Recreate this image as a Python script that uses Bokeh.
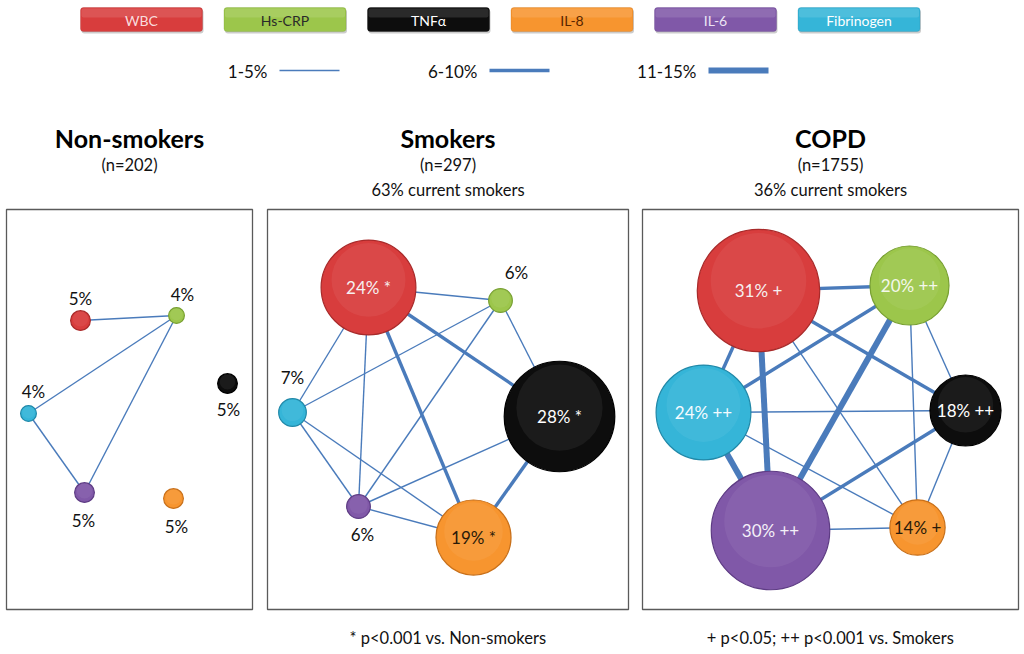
from bokeh.plotting import figure
from bokeh.models import Range1d, ColumnDataSource, BoxAnnotation
from bokeh.embed import file_html
from bokeh.resources import INLINE
from bokeh.core.properties import value

FONT = "Lato"

# ---------------- data ----------------
markers = ["WBC", "Hs-CRP", "TNFα", "IL-8", "IL-6", "Fibrinogen"]
marker_colors = ["#d83d3d", "#9cc64b", "#0d0d0d", "#f7952f", "#8058a8", "#35b5d8"]
marker_edges = ["#a82a2a", "#78a032", "#000000", "#c8701a", "#5e3c84", "#2088a8"]
legend_text_colors = ["#f8dcdc", "#2a2a2a", "#ffffff", "#5a2600", "#ece4f4", "#ffffff"]
node_text_colors = ["#f6f0f0", "#f4f8ec", "#ffffff", "#2a1a08", "#f4f0f8", "#f4fbff"]

width_classes = ["1-5%", "6-10%", "11-15%"]
width_px = [1.4, 3.4, 6.0]

groups = ["Non-smokers", "Smokers", "COPD"]
group_n = ["(n=202)", "(n=297)", "(n=1755)"]
group_smokers = ["", "63% current smokers", "36% current smokers"]
footnotes = ["", "* p<0.001 vs. Non-smokers", "+ p<0.05; ++ p<0.001 vs. Smokers"]

# prevalence of persistent inflammation (%) per marker (order as markers)
nonsmk_pct = [5, 4, 5, 5, 5, 4]
smk_pct = [24, 6, 28, 19, 6, 7]
copd_pct = [31, 20, 18, 14, 30, 24]
nonsmk_sig = ["", "", "", "", "", ""]
smk_sig = ["*", "", "*", "*", "", ""]
copd_sig = ["+", "++", "++", "+", "++", "++"]

# edges: (marker i, marker j, overlap class 1..3)
nonsmk_edges = [(0, 1, 1), (1, 5, 1), (1, 4, 1), (5, 4, 1)]
smk_edges = [(0, 1, 1), (0, 2, 2), (0, 3, 2), (0, 5, 1), (0, 4, 1), (1, 2, 1),
             (1, 5, 1), (1, 4, 1), (2, 4, 1), (2, 3, 2), (5, 4, 1), (5, 3, 1), (4, 3, 1)]
copd_edges = [(0, 1, 2), (0, 2, 2), (0, 5, 2), (0, 4, 3), (0, 3, 1), (1, 5, 2),
              (1, 4, 3), (1, 2, 1), (1, 3, 1), (2, 5, 1), (2, 4, 2), (2, 3, 1),
              (5, 4, 3), (5, 3, 1), (4, 3, 1)]

# ---------------- layout (page pixels) ----------------
nonsmk_x = [80, 176, 227, 173, 84, 28]
nonsmk_y = [320, 315, 383, 498, 492, 413]
smk_x = [368, 500, 559, 473, 358, 292]
smk_y = [287, 300, 416, 537, 506, 412]
copd_x = [758, 909, 965, 917, 770, 703]
copd_y = [290, 285, 410, 527, 530, 412]
# outside-label offsets for small nodes
nonsmk_lab = [(0, -22), (6, -21), (1, 26), (3, 28), (-1, 28), (5, -22)]
smk_lab = [(0, 0), (16, -28), (0, 0), (0, 0), (4, 28), (0, -35)]
copd_lab = [(0, 0)] * 6

panel_left = [6, 267, 642]
panel_right = [252, 628, 1018]
panel_top, panel_bottom = 209, 609

panels = [
    (nonsmk_x, nonsmk_y, nonsmk_pct, nonsmk_sig, nonsmk_edges, nonsmk_lab),
    (smk_x, smk_y, smk_pct, smk_sig, smk_edges, smk_lab),
    (copd_x, copd_y, copd_pct, copd_sig, copd_edges, copd_lab),
]

W, H = 1024, 654
p = figure(width=W, height=H, x_range=Range1d(0, W), y_range=Range1d(H, 0),
           output_backend="svg", toolbar_location=None, min_border=0)
p.axis.visible = False
p.grid.visible = False
p.outline_line_color = None
p.background_fill_color = "white"

EDGE = "#4a7bbb"
SIZE_PER_PCT = 3.95  # diameter in px per percentage point

# ---------------- legend: markers ----------------
for k, name in enumerate(markers):
    cx = 141 + k * 143.5
    p.add_layout(BoxAnnotation(left=cx - 60, right=cx + 62, top=9, bottom=33,
                               fill_color="#9a9a9a", fill_alpha=0.5, line_color=None,
                               border_radius=3, level="underlay"))
    p.add_layout(BoxAnnotation(left=cx - 61, right=cx + 61, top=7, bottom=31,
                               fill_color=marker_colors[k], fill_alpha=1.0,
                               line_color=marker_edges[k], line_width=1, border_radius=3,
                               level="underlay"))
    p.add_layout(BoxAnnotation(left=cx - 60, right=cx + 60, top=8, bottom=17,
                               fill_color="white", fill_alpha=0.12, line_color=None,
                               border_radius=2, level="underlay"))
leg_src = ColumnDataSource(dict(x=[141 + k * 143.5 for k in range(6)], y=[19.5] * 6,
                                t=markers, c=legend_text_colors))
p.text("x", "y", text="t", text_color="c", source=leg_src, text_align="center",
       text_baseline="middle", text_font=value(FONT), text_font_size="14px")

# ---------------- legend: line widths ----------------
lw_text_x = [267, 477, 696]
for k, lab in enumerate(width_classes):
    p.text([lw_text_x[k]], [71], text=[lab], text_align="right", text_baseline="middle",
           text_font=value(FONT), text_font_size="17px", text_color="#111111")
    p.segment([lw_text_x[k] + 12], [70], [lw_text_x[k] + 72], [70],
              line_color=EDGE, line_width=width_px[k])

# ---------------- panels ----------------
for g in range(3):
    xs, ys, pct, sig, edges, lab = panels[g]
    cx = (panel_left[g] + panel_right[g]) / 2
    # titles
    p.text([cx], [137], text=[groups[g]], text_align="center", text_baseline="middle",
           text_font=value(FONT), text_font_style="bold", text_font_size="25px",
           text_color="#000000")
    p.text([cx], [164], text=[group_n[g]], text_align="center", text_baseline="middle",
           text_font=value(FONT), text_font_size="16.5px", text_color="#111111")
    if group_smokers[g]:
        p.text([cx], [189], text=[group_smokers[g]], text_align="center",
               text_baseline="middle", text_font=value(FONT), text_font_size="16.5px",
               text_color="#111111")
    if footnotes[g]:
        p.text([cx], [637], text=[footnotes[g]], text_align="center",
               text_baseline="middle", text_font=value(FONT), text_font_size="16.5px",
               text_color="#111111")
    # frame
    p.quad(left=[panel_left[g]], right=[panel_right[g]], top=[panel_top],
           bottom=[panel_bottom], fill_color=None, line_color="#5a5a5a", line_width=1.3)
    # edges
    esrc = ColumnDataSource(dict(
        x0=[xs[i] for i, j, c in edges], y0=[ys[i] for i, j, c in edges],
        x1=[xs[j] for i, j, c in edges], y1=[ys[j] for i, j, c in edges],
        w=[width_px[c - 1] for i, j, c in edges]))
    p.segment("x0", "y0", "x1", "y1", source=esrc, line_color=EDGE, line_width="w")
    # nodes
    sizes = [v * SIZE_PER_PCT for v in pct]
    nsrc = ColumnDataSource(dict(x=xs, y=ys, s=sizes, fc=marker_colors, lc=marker_edges))
    p.scatter("x", "y", size="s", source=nsrc, fill_color="fc", line_color="lc",
              line_width=1.2)
    # soft highlight for a glossy look
    hsrc = ColumnDataSource(dict(x=xs, y=[y - s * 0.08 for y, s in zip(ys, sizes)],
                                 s=[s * 0.78 for s in sizes]))
    p.scatter("x", "y", size="s", source=hsrc, fill_color="white", fill_alpha=0.06,
              line_color=None)
    # labels
    tx, ty, tt, tc = [], [], [], []
    for k in range(6):
        txt = f"{pct[k]}%" + (f" {sig[k]}" if sig[k] else "")
        if pct[k] >= 10:
            tx.append(xs[k]); ty.append(ys[k]); tc.append(node_text_colors[k])
        else:
            tx.append(xs[k] + lab[k][0]); ty.append(ys[k] + lab[k][1]); tc.append("#111111")
        tt.append(txt)
    lsrc = ColumnDataSource(dict(x=tx, y=ty, t=tt, c=tc))
    p.text("x", "y", text="t", text_color="c", source=lsrc, text_align="center",
           text_baseline="middle", text_font=value(FONT), text_font_size="17px")

open("out.html", "w").write(file_html(p, INLINE))
